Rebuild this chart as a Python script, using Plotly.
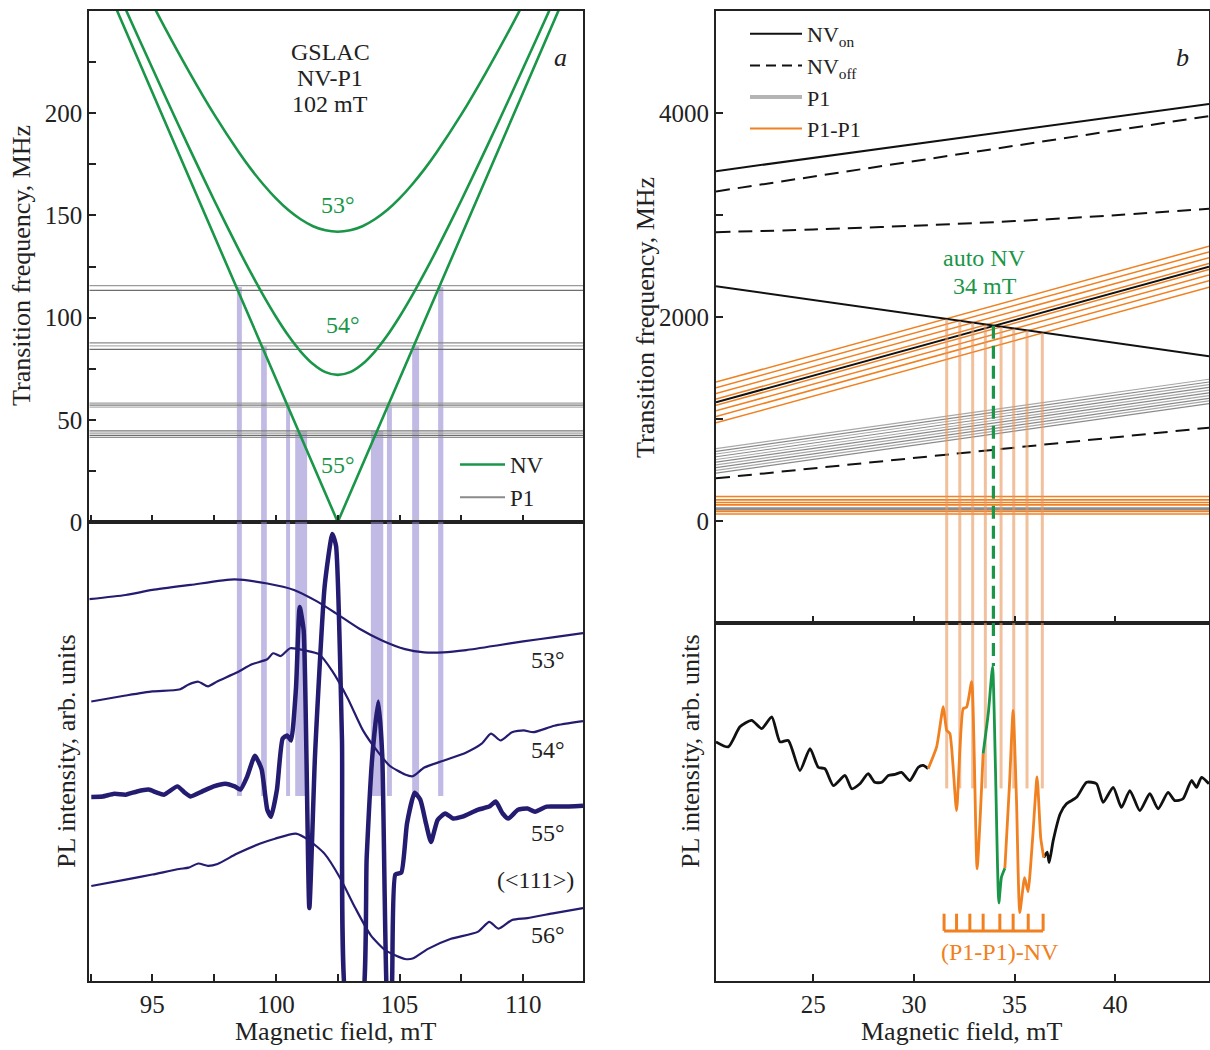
import plotly.graph_objects as go

FONT = "Liberation Serif"
NAVY = "rgb(36,28,112)"
GREEN = "rgb(26,150,72)"
ORANGE = "rgb(240,128,32)"
VORANGE = "rgba(232,150,90,0.6)"
BAND = "rgba(140,130,205,0.55)"
FRAME = "#222222"

# ---------------- panel a (top): transition frequencies ----------------
NV53_B = [94.5, 95.5, 96.5, 97.5, 98.5, 99.0, 99.5, 100.0, 100.5, 101.0, 101.5, 102.0, 102.5,
          103.0, 103.5, 104.0, 104.5, 105.0, 105.5, 106.0, 106.5, 107.5, 108.5, 109.5, 110.5]
NV53_F = [265.2, 242.0, 220.0, 199.4, 180.9, 172.5, 165.0, 158.3, 152.6, 148.1, 144.7, 142.7, 142.0,
          142.7, 144.7, 148.1, 152.6, 158.3, 165.0, 172.5, 180.9, 199.4, 220.0, 242.0, 265.2]
NV54_B = [93.5, 94.5, 95.5, 96.5, 97.5, 98.5, 99.0, 99.5, 100.0, 100.5, 101.0, 101.5, 102.0, 102.5,
          103.0, 103.5, 104.0, 104.5, 105.0, 105.5, 106.0, 106.5, 107.5, 108.5, 109.5, 110.5, 111.5]
NV54_F = [262.1, 235.3, 208.8, 182.8, 157.4, 133.1, 121.6, 110.6, 100.4, 91.2, 83.4, 77.3, 73.3, 72.0,
          73.3, 77.3, 83.4, 91.2, 100.4, 110.6, 121.6, 133.1, 157.4, 182.8, 208.8, 235.3, 262.1]
NV55_B = [93.4, 102.5, 111.6]
NV55_F = [255.0, 0.0, 255.0]

P1_A_LEVELS = [115.6, 113.3, 87.6, 86.2, 84.5, 58.2, 57.2, 56.2, 44.6, 43.5, 42.4, 41.4]
P1_A_COLORS = ["#9a9a9a", "#6e6e6e", "#8a8a8a", "#b0b0b0", "#6e6e6e", "#a0a0a0", "#7a7a7a", "#b0b0b0",
               "#7a7a7a", "#a0a0a0", "#6e6e6e", "#909090"]

BAND_LO = [98.42, 99.40, 100.41, 100.78, 103.84, 104.49, 105.51, 106.56]
BAND_HI = [98.62, 99.63, 100.57, 101.26, 104.34, 104.69, 105.79, 106.77]
BAND_TOP = [115.0, 86.0, 57.0, 44.5, 44.5, 57.0, 86.0, 115.0]
BAND_BOTTOM_PL = 40.3

# ---------------- panel a (bottom): PL spectra ----------------
PL53_B = [92.45, 93.92, 95.0, 96.55, 98.33, 99.65, 100.73, 101.66, 102.43, 103.36, 104.29, 105.22,
          106.0, 106.77, 107.7, 108.94, 110.0, 111.26, 112.42]
PL53_Y = [83.2, 84.1, 85.2, 86.3, 87.5, 86.6, 85.2, 82.7, 80.1, 76.8, 74.2, 72.3,
          71.6, 71.6, 72.1, 73.1, 74.0, 74.9, 75.8]

PL54_B = [92.53, 93.92, 95.0, 96.09, 96.47, 96.86, 97.25, 97.64, 98.41, 99.03, 99.65, 99.88, 100.19,
          100.58, 101.2, 101.74, 102.28, 102.9, 103.52, 104.14, 104.6, 105.22, 105.53, 106.0, 106.77,
          107.7, 108.32, 108.7, 109.09, 109.55, 110.02, 110.41, 111.26, 112.42]
PL54_Y = [60.9, 62.2, 63.1, 63.5, 64.6, 65.2, 64.2, 65.3, 67.2, 69.0, 70.1, 71.4, 70.8,
          72.5, 72.0, 71.2, 67.5, 61.6, 54.6, 49.8, 46.9, 45.0, 44.6, 46.5, 48.0,
          49.8, 51.7, 53.9, 52.4, 54.2, 54.6, 54.2, 55.6, 56.6]

PL55_B = [92.53, 92.99, 93.46, 93.92, 94.38, 94.85, 95.16, 95.47, 96.01, 96.32, 96.55, 97.02, 97.48,
          97.95, 98.33, 98.56, 98.84, 99.15, 99.42, 99.65, 99.80, 100.04, 100.27, 100.45, 100.61,
          100.81, 100.96, 101.12, 101.35, 101.58, 101.97, 102.28, 102.43, 102.67, 102.9, 103.44,
          103.67, 103.9, 104.14, 104.3, 104.52, 104.68, 104.83, 105.07, 105.3, 105.61, 105.84,
          106.07, 106.27, 106.54, 106.85, 107.16, 107.54, 108.16, 108.63, 108.89, 109.17, 109.4,
          109.79, 110.17, 110.48, 110.95, 111.57, 112.42]
PL55_Y = [40.1, 40.2, 40.8, 40.6, 41.3, 41.7, 41.1, 40.6, 42.4, 41.0, 40.2, 41.3, 42.4,
          43.0, 42.4, 41.7, 44.6, 49.1, 46.1, 37.3, 35.8, 41.7, 52.8, 53.5, 52.4,
          63.8, 81.5, 76.4, 15.9, 49.1, 86.0, 97.4, 94.8, 52.8, -6.3, -6.3,
          26.9, 49.1, 60.9, 49.1, -6.3, -2.6, 23.2, 23.6, 34.3, 41.0, 39.5,
          34.3, 30.3, 35.1, 36.5, 35.4, 35.8, 37.3, 38.0, 39.1, 36.5, 35.4,
          37.3, 37.6, 36.9, 38.0, 38.0, 38.2]

PL56_B = [92.53, 93.92, 95.0, 96.09, 96.47, 96.86, 97.25, 97.64, 98.41, 99.34, 99.96, 100.81, 101.35,
          101.97, 102.59, 103.21, 103.83, 104.45, 105.22, 105.53, 106.15, 107.08, 108.16, 108.63,
          109.01, 109.55, 110.17, 111.26, 112.42]
PL56_Y = [20.7, 22.1, 23.2, 24.4, 24.7, 25.6, 25.1, 25.5, 27.7, 29.9, 31.0, 32.1, 30.6,
          27.7, 22.5, 15.9, 10.0, 6.6, 4.8, 4.9, 7.0, 9.2, 10.7, 12.9,
          11.4, 13.3, 13.7, 14.8, 15.9]

# ---------------- panel b (top): transition frequencies ----------------
B_EDGES = [20.17, 44.66]
NV_ON_LINES = [[3430, 4088], [2301, 1616], [1163, 2494]]
NV_OFF_LINES_B = [[20.17, 44.66], [20.17, 25.0, 30.0, 35.0, 40.0, 44.66], [20.17, 44.66]]
NV_OFF_LINES_F = [[3231, 3970], [2832, 2858, 2895, 2940, 2998, 3062], [418, 915]]
P1P1_LEFT = [1362, 1307, 1250, 1195, 1134, 1080, 1024, 962]
P1P1_RIGHT = [2693, 2638, 2581, 2526, 2465, 2411, 2355, 2293]
P1_B_LEFT = [470, 497, 523, 550, 577, 603, 630, 657, 683, 710]
P1_B_RIGHT = [1150, 1177, 1203, 1230, 1257, 1283, 1310, 1337, 1363, 1390]
P1P1_FLAT = [240, 207, 182, 158, 94, 68]
P1_FLAT = [126, 112]

VLINE_B = [31.63, 32.28, 32.92, 33.55, 34.33, 34.96, 35.62, 36.38]
VLINE_TOP = [1979, 1961, 1943, 1925, 1903, 1885, 1867, 1846]
VLINE_BOTTOM_PL = 53.8
AUTO_B = 33.95
AUTO_TOP = 1915
AUTO_BOTTOM_PL = 88.0

# ---------------- panel b (bottom): PL spectrum ----------------
PLB_K1_B = [20.17, 20.78, 21.36, 21.94, 22.44, 22.94, 23.35, 23.76, 24.34, 24.84, 25.25, 25.58, 26.0,
            26.58, 26.91, 27.32, 27.73, 28.06, 28.40, 28.73, 29.06, 29.39, 29.80, 30.22, 30.46, 30.71]
PLB_K1_Y = [66.8, 65.4, 71.0, 72.8, 70.5, 73.8, 66.8, 67.2, 58.8, 64.9, 59.7, 59.3, 54.6,
            57.4, 53.7, 55.1, 57.9, 55.5, 55.5, 57.4, 57.7, 58.3, 56.0, 59.7, 60.2, 59.3]
PLB_O1_B = [30.71, 31.13, 31.46, 31.63, 31.79, 32.12, 32.45, 32.62, 32.87, 33.14, 33.44]
PLB_O1_Y = [59.3, 65.4, 76.6, 70.0, 69.1, 47.6, 76.1, 76.5, 83.6, 31.3, 63.5]
PLB_G_B = [33.44, 33.7, 33.91, 34.05, 34.22, 34.35, 34.52]
PLB_G_Y = [63.5, 75.0, 87.8, 60.0, 21.8, 29.0, 31.5]
PLB_O2_B = [34.52, 34.75, 34.93, 35.1, 35.26, 35.5, 35.67, 35.9, 36.12, 36.3, 36.45]
PLB_O2_Y = [31.5, 55.0, 75.6, 50.0, 19.1, 28.9, 25.0, 40.0, 57.0, 40.0, 34.5]
PLB_K2_B = [36.45, 36.62, 36.72, 36.92, 37.27, 37.58, 38.08, 38.58, 39.07, 39.40, 39.90, 40.31, 40.73,
            41.22, 41.72, 42.13, 42.63, 42.96, 43.37, 43.79, 44.04, 44.29, 44.66]
PLB_K2_Y = [34.5, 36.0, 33.1, 39.2, 46.7, 49.5, 51.3, 55.5, 55.1, 49.9, 54.1, 48.5, 53.2,
            47.6, 52.3, 48.1, 52.7, 50.4, 50.9, 56.0, 54.1, 56.9, 55.1]

BRACKET_B = [31.5, 32.12, 32.78, 33.44, 34.27, 34.93, 35.68, 36.42]
BRACKET_BASE = 14.0
BRACKET_TIP = 18.8

XA = [92.45, 112.42]
XB = [20.17, 44.66]

fig = go.Figure()

def add(x, y, xa, ya, **kw):
    fig.add_trace(go.Scatter(x=x, y=y, xaxis=xa, yaxis=ya, mode="lines",
                             showlegend=kw.pop("showlegend", False), hoverinfo="skip", **kw))

# ---- panel a top ----
for lvl, col in zip(P1_A_LEVELS, P1_A_COLORS):
    add(XA, [lvl, lvl], "x", "y", line=dict(color=col, width=1.3))
for b, f in [(NV53_B, NV53_F), (NV54_B, NV54_F)]:
    add(b, f, "x", "y", line=dict(color=GREEN, width=2.6, shape="spline", smoothing=0.8))
add(NV55_B, NV55_F, "x", "y", line=dict(color=GREEN, width=2.6))
add([None], [None], "x", "y", name="NV", showlegend=True, legend="legend",
    line=dict(color=GREEN, width=2.6))
add([None], [None], "x", "y", name="P1", showlegend=True, legend="legend",
    line=dict(color="#8a8a8a", width=2))

# ---- panel a bottom ----
for b, y in [(PL53_B, PL53_Y), (PL54_B, PL54_Y), (PL56_B, PL56_Y)]:
    add(b, y, "x2", "y2", line=dict(color=NAVY, width=2.2, shape="spline", smoothing=0.6))
add(PL55_B, PL55_Y, "x2", "y2", line=dict(color=NAVY, width=4.5, shape="spline", smoothing=0.5))

# ---- panel b top ----
for f in P1_FLAT:
    add(XB, [f, f], "x3", "y3", line=dict(color="#8c8c8c", width=2))
for f in P1P1_FLAT:
    add(XB, [f, f], "x3", "y3", line=dict(color=ORANGE, width=1.6))
for i, (l, r) in enumerate(zip(P1_B_LEFT, P1_B_RIGHT)):
    add(B_EDGES, [l, r], "x3", "y3",
        line=dict(color="#8a8a8a" if i % 2 == 0 else "#a8a8a8", width=1.2))
for l, r in zip(P1P1_LEFT, P1P1_RIGHT):
    add(B_EDGES, [l, r], "x3", "y3", line=dict(color=ORANGE, width=1.5))
for b, f in zip(NV_OFF_LINES_B, NV_OFF_LINES_F):
    add(b, f, "x3", "y3", line=dict(color="#111111", width=2, dash="14px,8px", shape="spline"))
for lr in NV_ON_LINES:
    add(B_EDGES, lr, "x3", "y3", line=dict(color="#111111", width=2))

vx, vy = [], []
for b, t in zip(VLINE_B, VLINE_TOP):
    vx += [b, b, None]
    vy += [t, -1000, None]
add(vx, vy, "x3", "y3", line=dict(color=VORANGE, width=3))
add([AUTO_B, AUTO_B], [AUTO_TOP, -1000], "x3", "y3",
    line=dict(color=GREEN, width=3.2, dash="13px,7px"))

add([None], [None], "x3", "y3", name="NV<sub>on</sub>", showlegend=True, legend="legend2",
    line=dict(color="#111111", width=2))
add([None], [None], "x3", "y3", name="NV<sub>off</sub>", showlegend=True, legend="legend2",
    line=dict(color="#111111", width=2, dash="10px,6px"))
add([None], [None], "x3", "y3", name="P1", showlegend=True, legend="legend2",
    line=dict(color="#b4b4b4", width=4))
add([None], [None], "x3", "y3", name="P1-P1", showlegend=True, legend="legend2",
    line=dict(color=ORANGE, width=2))

# ---- panel b bottom ----
vx, vy = [], []
for b in VLINE_B:
    vx += [b, b, None]
    vy += [100, VLINE_BOTTOM_PL, None]
add(vx, vy, "x4", "y4", line=dict(color=VORANGE, width=3))
add([AUTO_B, AUTO_B], [100, AUTO_BOTTOM_PL], "x4", "y4",
    line=dict(color=GREEN, width=3.2, dash="13px,7px"))
add(PLB_K1_B, PLB_K1_Y, "x4", "y4", line=dict(color="#111111", width=2.8, shape="spline", smoothing=0.6))
add(PLB_K2_B, PLB_K2_Y, "x4", "y4", line=dict(color="#111111", width=2.8, shape="spline", smoothing=0.6))
add(PLB_O1_B, PLB_O1_Y, "x4", "y4", line=dict(color=ORANGE, width=2.8, shape="spline", smoothing=0.5))
add(PLB_O2_B, PLB_O2_Y, "x4", "y4", line=dict(color=ORANGE, width=2.8, shape="spline", smoothing=0.5))
add(PLB_G_B, PLB_G_Y, "x4", "y4", line=dict(color=GREEN, width=2.8, shape="spline", smoothing=0.5))

bx = [BRACKET_B[0], BRACKET_B[-1], None]
by = [BRACKET_BASE, BRACKET_BASE, None]
for b in BRACKET_B:
    bx += [b, b, None]
    by += [BRACKET_BASE, BRACKET_TIP, None]
add(bx, by, "x4", "y4", line=dict(color=ORANGE, width=3))

# ---- violet bands (panel a) ----
shapes = []
for lo, hi, top in zip(BAND_LO, BAND_HI, BAND_TOP):
    shapes.append(dict(type="rect", xref="x", yref="y", x0=lo, x1=hi, y0=0, y1=top,
                       fillcolor=BAND, line_width=0, layer="below"))
    shapes.append(dict(type="rect", xref="x2", yref="y2", x0=lo, x1=hi, y0=BAND_BOTTOM_PL, y1=100,
                       fillcolor=BAND, line_width=0, layer="below"))

# ---- layout ----
W, H = 1210, 1050
def px_x(p):
    return p / W
def px_y(p):
    return 1 - p / H

LX = [px_x(89.3), px_x(583)]
RX = [px_x(716), px_x(1209)]
TOPY = px_y(11)
LMID = px_y(522)
RMID = px_y(623)
BOT = px_y(981)

tickfont = dict(family=FONT, size=25, color="#222")
base_ax = dict(showline=True, linecolor=FRAME, linewidth=2, mirror=True, showgrid=False,
               zeroline=False, tickfont=tickfont, ticks="inside", tickcolor=FRAME, ticklen=7,
               tickwidth=1.5, automargin=False)

fig.update_layout(
    width=W, height=H, margin=dict(l=0, r=0, t=0, b=0, autoexpand=False),
    paper_bgcolor="white", plot_bgcolor="white",
    font=dict(family=FONT, size=24, color="#222"),
    shapes=shapes,
    xaxis=dict(base_ax, domain=LX, range=XA, anchor="y", showticklabels=False, dtick=5, tick0=95,
               minor=dict(dtick=2.5, tick0=92.5, ticks="inside", ticklen=7, tickcolor=FRAME)),
    yaxis=dict(base_ax, domain=[LMID, TOPY], range=[0, 250], anchor="x", dtick=50, tick0=0,
               minor=dict(dtick=25, ticks="inside", ticklen=7, tickcolor=FRAME)),
    xaxis2=dict(base_ax, domain=LX, range=XA, anchor="y2", dtick=5, tick0=95,
                minor=dict(dtick=2.5, tick0=92.5, ticks="inside", ticklen=7, tickcolor=FRAME)),
    yaxis2=dict(base_ax, domain=[BOT, LMID], range=[0, 100], anchor="x2", ticks="",
                showticklabels=False),
    xaxis3=dict(base_ax, domain=RX, range=XB, anchor="y3", showticklabels=False, dtick=5, tick0=25),
    yaxis3=dict(base_ax, domain=[RMID, TOPY], range=[-1000, 5000], anchor="x3", dtick=2000, tick0=0,
                minor=dict(dtick=1000, ticks="inside", ticklen=7, tickcolor=FRAME)),
    xaxis4=dict(base_ax, domain=RX, range=XB, anchor="y4", dtick=5, tick0=25),
    yaxis4=dict(base_ax, domain=[BOT, RMID], range=[0, 100], anchor="x4", ticks="",
                showticklabels=False),
    legend=dict(x=px_x(455), y=px_y(443), xanchor="left", yanchor="top",
                bgcolor="rgba(0,0,0,0)", font=dict(family=FONT, size=23, color="#222"),
                itemwidth=45, tracegroupgap=0),
    legend2=dict(x=px_x(745), y=px_y(13), xanchor="left", yanchor="top",
                 bgcolor="rgba(0,0,0,0)", font=dict(family=FONT, size=22, color="#222"),
                 itemwidth=52, tracegroupgap=0),
)

ann = []
def text(x, y, s, xref, yref, color="#222", size=24, **kw):
    ann.append(dict(x=x, y=y, xref=xref, yref=yref, text=s, showarrow=False,
                    xanchor="center", yanchor="middle",
                    font=dict(family=FONT, size=size, color=color), **kw))

text(px_x(21), px_y(266), "Transition frequency, MHz", "paper", "paper", size=26, textangle=-90)
text(px_x(66), px_y(751), "PL intensity, arb. units", "paper", "paper", size=26, textangle=-90)
text(px_x(645), px_y(318), "Transition frequency, MHz", "paper", "paper", size=26, textangle=-90)
text(px_x(690), px_y(751), "PL intensity, arb. units", "paper", "paper", size=26, textangle=-90)
text(px_x(336), px_y(1031), "Magnetic field, mT", "paper", "paper", size=26)
text(px_x(962), px_y(1031), "Magnetic field, mT", "paper", "paper", size=26)

text(102.2, 229.8, "GSLAC", "x", "y")
text(102.2, 217.0, "NV-P1", "x", "y")
text(102.2, 204.4, "102 mT", "x", "y")
text(111.5, 227.4, "<i>a</i>", "x", "y", size=26)
text(102.49, 155.0, "53°", "x", "y", color=GREEN)
text(102.7, 96.3, "54°", "x", "y", color=GREEN)
text(102.5, 27.9, "55°", "x", "y", color=GREEN)
text(111.02, 69.9, "53°", "x2", "y2")
text(111.02, 50.3, "54°", "x2", "y2")
text(111.02, 32.2, "55°", "x2", "y2")
text(110.5, 22.0, "(&lt;111&gt;)", "x2", "y2")
text(111.02, 10.0, "56°", "x2", "y2")

text(43.36, 4549, "<i>b</i>", "x3", "y3", size=26)
text(33.53, 2583, "auto NV", "x3", "y3", color=GREEN)
text(33.53, 2301, "34 mT", "x3", "y3", color=GREEN)
text(34.27, 8.1, "(P1-P1)-NV", "x4", "y4", color=ORANGE)

fig.update_layout(annotations=ann)
fig.write_html("out.html", config={"displayModeBar": False},
               post_script="document.body.style.margin='0';")
